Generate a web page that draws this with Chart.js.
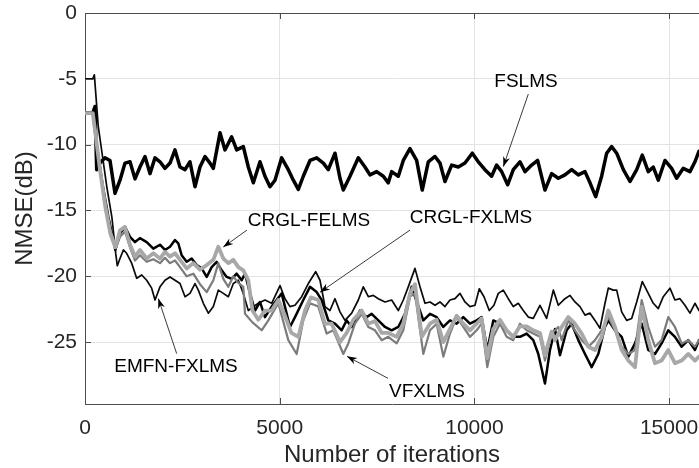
<!DOCTYPE html>
<html><head><meta charset="utf-8">
<script src="https://cdn.jsdelivr.net/npm/chart.js@4/dist/chart.umd.min.js"></script>
<style>html,body{margin:0;padding:0;background:#fff;overflow:hidden}</style>
</head><body>
<canvas id="c" width="699" height="468"></canvas>
<script>
// ---------- axes ----------
const xTickValues = [0, 5000, 10000, 15000];
const yTickValues = [-25, -20, -15, -10, -5, 0];
const xMin = 0, xMax = 15768, yMin = -29.7, yMax = 0;
const xTitle = 'Number of iterations';
const yTitle = 'NMSE(dB)';

// ---------- series ----------
const fslmsX = [0,200,257,300,385,514,642,770,899,1027,1156,1284,1412,1541,1669,1798,1926,2054,2183,2311,2440,2568,2696,2825,2953,3082,3210,3295,3467,3595,3766,3895,4066,4194,4323,4494,4622,4751,4879,5050,5221,5350,5478,5606,5778,5949,6120,6248,6420,6548,6634,6805,7019,7190,7319,7490,7661,7789,7875,8046,8174,8345,8517,8661,8816,8988,9116,9244,9416,9587,9758,9946,10100,10271,10442,10571,10700,10854,10999,11170,11299,11470,11624,11812,11984,12155,12326,12498,12669,12840,12969,13114,13268,13397,13525,13654,13825,13997,14168,14312,14465,14594,14722,14894,15065,15193,15364,15536,15664,15768];
const fslmsY = [-7.6,-7.6,-7.1,-11.9,-11.4,-11.0,-11.2,-13.7,-12.7,-11.4,-11.3,-12.6,-11.7,-10.9,-12.2,-11.0,-11.3,-11.8,-11.4,-10.4,-11.7,-11.9,-11.3,-13.2,-11.7,-10.9,-11.4,-11.8,-9.1,-10.4,-9.4,-10.4,-10.15,-11.7,-12.9,-11.3,-12.4,-13.2,-12.7,-11.0,-11.9,-12.7,-13.4,-12.4,-11.2,-11.0,-11.4,-11.9,-10.65,-12.55,-13.45,-12.4,-11.0,-11.7,-12.3,-12.05,-12.4,-12.9,-12.05,-12.4,-11.2,-10.3,-11.2,-13.45,-11.3,-10.9,-11.4,-12.8,-11.55,-11.7,-11.4,-10.65,-11.3,-11.9,-12.4,-11.55,-12.05,-13.05,-11.9,-11.3,-12.05,-11.55,-11.2,-13.45,-12.2,-12.55,-12.3,-11.9,-12.3,-12.05,-12.9,-13.95,-12.4,-10.65,-10.15,-10.65,-11.9,-12.8,-11.9,-10.8,-12.05,-11.7,-12.7,-11.2,-11.8,-12.55,-11.8,-12.05,-11.3,-10.5];

const emfnX = [0,200,240,340,450,560,690,790,830,899,985,1070,1198,1327,1456,1584,1712,1798,1926,2054,2183,2311,2440,2568,2696,2825,2910,3039,3167,3296,3424,3552,3681,3809,3937,4066,4194,4451,4622,4794,5008,5136,5264,5393,5564,5735,5924,6035,6163,6291,6420,6548,6677,6849,7019,7147,7276,7404,7532,7704,7875,8046,8174,8302,8474,8603,8731,8860,8988,9116,9244,9373,9501,9630,9758,9886,10015,10125,10246,10382,10502,10614,10742,10871,10999,11127,11256,11384,11512,11684,11855,12027,12155,12326,12455,12583,12712,12840,12969,13097,13225,13354,13439,13567,13654,13782,13911,14039,14168,14312,14465,14594,14722,14851,15022,15150,15279,15407,15536,15664,15768];
const emfnY = [-5.0,-5.0,-4.7,-8.6,-10.9,-13.2,-15.5,-18.3,-19.2,-18.65,-18.0,-18.25,-19.0,-20.15,-19.9,-20.3,-20.9,-21.8,-20.8,-20.3,-20.05,-20.3,-20.55,-21.55,-21.3,-20.55,-21.05,-22.05,-22.8,-22.3,-21.05,-21.3,-21.55,-20.55,-20.3,-21.3,-22.6,-22.05,-21.8,-22.05,-20.7,-21.7,-22.3,-22.2,-21.55,-20.55,-19.65,-20.3,-22.3,-22.6,-21.7,-22.7,-23.35,-22.8,-21.8,-20.8,-21.55,-21.45,-21.7,-21.95,-21.8,-22.6,-21.8,-20.8,-19.4,-20.8,-22.05,-21.95,-22.2,-21.95,-22.3,-21.8,-21.7,-21.3,-21.95,-22.3,-22.2,-20.95,-21.55,-22.6,-22.2,-21.3,-21.05,-21.7,-22.3,-22.05,-22.6,-23.1,-23.2,-22.2,-23.2,-21.05,-22.2,-21.7,-21.45,-21.95,-22.3,-22.95,-22.8,-23.35,-23.95,-22.05,-20.9,-21.05,-21.05,-22.7,-23.35,-23.2,-21.95,-20.4,-21.3,-22.05,-22.45,-21.55,-20.9,-21.8,-21.7,-22.2,-22.8,-22.05,-22.6];

const crglFxX = [0,200,300,450,600,780,899,1027,1156,1284,1412,1584,1755,1926,2054,2183,2311,2396,2482,2611,2739,2868,2996,3125,3253,3382,3510,3639,3767,3895,4024,4109,4237,4366,4494,4622,4794,5050,5264,5393,5606,5778,5949,6078,6248,6420,6591,6720,6849,7062,7233,7362,7532,7704,7875,8046,8217,8389,8474,8688,8860,9031,9202,9373,9544,9715,9886,10058,10186,10331,10485,10657,10828,10999,11170,11342,11512,11641,11812,11941,12070,12198,12369,12498,12669,12840,13011,13182,13354,13439,13610,13782,13953,14125,14297,14465,14637,14808,14979,15150,15322,15493,15664,15768];
const crglFxY = [-7.6,-7.6,-10.0,-13.0,-15.5,-18.0,-16.75,-16.25,-17.0,-17.4,-17.1,-17.4,-17.9,-17.6,-18.0,-17.75,-17.25,-17.5,-18.4,-18.9,-18.65,-19.15,-19.4,-20.05,-19.3,-18.9,-19.55,-20.05,-20.2,-19.8,-20.3,-19.8,-21.3,-22.6,-21.95,-23.1,-22.3,-21.3,-23.85,-23.1,-21.8,-20.8,-21.2,-21.8,-23.35,-23.6,-24.1,-23.35,-23.85,-22.6,-23.1,-22.85,-23.35,-23.85,-24.1,-23.85,-22.85,-20.8,-21.55,-23.35,-22.85,-23.1,-23.85,-23.35,-23.6,-23.1,-23.6,-23.35,-23.1,-25.6,-23.35,-23.6,-24.1,-24.6,-24.6,-24.35,-24.85,-25.9,-28.15,-25.6,-24.0,-26.0,-24.1,-23.6,-24.85,-25.9,-26.9,-25.9,-23.85,-23.35,-24.1,-24.6,-26.1,-25.1,-23.6,-25.6,-25.9,-25.1,-24.1,-24.6,-25.35,-24.85,-25.6,-24.85];

const crglFeX = [0,200,385,520,650,780,899,1027,1156,1284,1412,1584,1755,1926,2054,2183,2311,2440,2611,2782,2953,3125,3296,3424,3552,3681,3809,3937,4066,4194,4300,4451,4622,4794,4965,5136,5300,5478,5650,5800,5992,6163,6334,6548,6720,6890,7105,7276,7447,7618,7789,8003,8174,8346,8474,8650,8860,9031,9202,9373,9544,9715,9886,10058,10186,10331,10485,10657,10828,10999,11170,11342,11512,11684,11812,11984,12070,12241,12412,12583,12755,12926,13097,13268,13439,13610,13782,13953,14125,14297,14465,14637,14808,14979,15150,15322,15493,15664,15768];
const crglFeY = [-7.6,-7.6,-11.9,-14.7,-16.75,-17.8,-16.5,-16.25,-17.6,-18.5,-18.0,-18.65,-18.25,-18.65,-18.15,-18.5,-18.25,-18.75,-19.4,-19.0,-19.5,-19.15,-18.75,-17.75,-18.65,-19.0,-18.75,-19.3,-19.55,-20.3,-22.6,-23.3,-22.6,-22.6,-21.8,-23.0,-24.3,-24.6,-22.6,-21.6,-21.8,-23.6,-23.6,-25.0,-24.3,-23.3,-22.6,-23.6,-23.4,-24.3,-24.3,-24.6,-23.6,-21.3,-20.6,-24.6,-23.6,-23.3,-25.0,-24.0,-23.0,-23.6,-24.1,-23.6,-23.2,-26.2,-24.0,-23.3,-24.1,-24.6,-23.8,-23.8,-24.1,-24.3,-26.0,-24.2,-24.85,-23.85,-23.1,-23.6,-24.35,-25.35,-25.6,-24.6,-22.6,-23.85,-25.6,-26.4,-26.9,-22.3,-24.85,-26.6,-26.4,-25.6,-26.6,-26.4,-25.9,-26.4,-26.1];

const vfxX = [0,200,350,500,650,800,899,1027,1156,1284,1412,1584,1755,1926,2054,2183,2311,2440,2611,2782,2953,3125,3296,3424,3552,3681,3809,3937,4066,4109,4300,4537,4708,4965,5221,5435,5606,5778,5992,6206,6377,6634,6762,6933,7105,7276,7447,7618,7789,8003,8174,8346,8474,8688,8860,9031,9202,9373,9544,9715,9886,10058,10186,10331,10485,10657,10828,10999,11170,11342,11512,11684,11812,11984,12155,12241,12412,12583,12755,12926,13097,13268,13439,13610,13782,13953,14125,14297,14465,14637,14808,14979,15150,15322,15493,15664,15768];
const vfxY = [-7.6,-7.6,-11.0,-14.0,-16.5,-17.8,-17.0,-16.6,-17.8,-18.8,-18.4,-18.9,-18.7,-19.0,-18.6,-19.0,-18.8,-19.3,-20.0,-19.8,-20.6,-21.2,-20.3,-19.0,-20.2,-20.8,-20.0,-20.5,-20.8,-22.85,-23.5,-24.1,-23.35,-22.05,-24.85,-25.9,-23.35,-22.05,-22.3,-24.35,-24.1,-25.9,-25.1,-23.6,-22.85,-23.85,-24.1,-24.85,-24.6,-25.1,-24.1,-21.55,-21.3,-25.9,-24.1,-23.6,-26.1,-24.35,-23.1,-23.85,-24.6,-24.1,-23.6,-26.9,-24.6,-23.6,-24.6,-24.85,-23.6,-24.1,-24.35,-24.6,-26.4,-24.35,-23.85,-24.85,-23.35,-24.1,-24.85,-25.35,-24.85,-24.1,-23.1,-24.1,-25.35,-25.9,-25.6,-21.8,-23.85,-25.35,-24.85,-23.1,-23.85,-25.1,-24.85,-25.35,-24.85];

// ---------- annotations (data coordinates) ----------
const annLabels = ['FSLMS','CRGL-FELMS','CRGL-FXLMS','EMFN-FXLMS','VFXLMS'];
const annTextX = [11325, 5752, 9913, 2337, 8783];
const annTextY = [-5.23, -15.8, -15.55, -26.9, -28.8];
const arrowFromX = [11384, 4160, 8346, 2354, 7781];
const arrowFromY = [-6.16, -16.49, -16.49, -25.87, -27.75];
const arrowToX = [10742, 3550, 6035, 1883, 6728];
const arrowToY = [-11.67, -17.78, -21.21, -21.69, -26.08];

const FONT = "'Liberation Sans', Arial, Helvetica, sans-serif";
const pts = (xs, ys) => xs.map((x, i) => ({x, y: ys[i]}));

function ds(label, xs, ys, color, width) {
  return {label, data: pts(xs, ys), borderColor: color, backgroundColor: color,
    borderWidth: width, pointRadius: 0, tension: 0, fill: false,
    borderJoinStyle: 'round', borderCapStyle: 'round'};
}

function noPad(s) { s.paddingTop = 0; s.paddingBottom = 0; s.paddingLeft = 0; s.paddingRight = 0; }

function arrowHead(ctx, x0, y0, x1, y1) {
  const ang = Math.atan2(y1 - y0, x1 - x0);
  const L = 10, W = 3.5, N = 7;
  const bx = x1 - L * Math.cos(ang), by = y1 - L * Math.sin(ang);
  const nx = x1 - N * Math.cos(ang), ny = y1 - N * Math.sin(ang);
  const px = -Math.sin(ang), py = Math.cos(ang);
  ctx.beginPath();
  ctx.moveTo(x1, y1);
  ctx.lineTo(bx + W * px, by + W * py);
  ctx.lineTo(nx, ny);
  ctx.lineTo(bx - W * px, by - W * py);
  ctx.closePath();
  ctx.fill();
}

const boxPlugin = {
  id: 'matlabBox',
  afterDraw(chart) {
    const {ctx, chartArea: a, scales: {x, y}} = chart;
    ctx.save();
    ctx.strokeStyle = '#4d4d4d';
    ctx.lineWidth = 1;
    ctx.beginPath();
    ctx.moveTo(a.left, Math.round(a.top) + 0.5);
    ctx.lineTo(a.right, Math.round(a.top) + 0.5);
    xTickValues.forEach(v => {
      const px = Math.round(x.getPixelForValue(v)) + 0.5;
      ctx.moveTo(px, a.bottom); ctx.lineTo(px, a.bottom - 6);
      ctx.moveTo(px, a.top); ctx.lineTo(px, a.top + 6);
    });
    yTickValues.forEach(v => {
      const py = Math.round(y.getPixelForValue(v)) + 0.5;
      ctx.moveTo(a.left, py); ctx.lineTo(a.left + 6, py);
    });
    ctx.stroke();

    // annotations
    ctx.font = '19px ' + FONT;
    ctx.textAlign = 'center';
    ctx.textBaseline = 'middle';
    annLabels.forEach((t, i) => {
      const x0 = x.getPixelForValue(arrowFromX[i]), y0 = y.getPixelForValue(arrowFromY[i]);
      const x1 = x.getPixelForValue(arrowToX[i]), y1 = y.getPixelForValue(arrowToY[i]);
      ctx.strokeStyle = '#3a3a3a';
      ctx.lineWidth = 1;
      ctx.beginPath(); ctx.moveTo(x0, y0); ctx.lineTo(x1, y1); ctx.stroke();
      ctx.fillStyle = '#000';
      arrowHead(ctx, x0, y0, x1, y1);
      ctx.fillText(t, x.getPixelForValue(annTextX[i]), y.getPixelForValue(annTextY[i]));
    });
    ctx.restore();
  }
};

new Chart(document.getElementById('c'), {
  type: 'line',
  data: {
    datasets: [
      ds('CRGL-FELMS', crglFeX, crglFeY, '#a8a8a8', 3.8),
      ds('VFXLMS', vfxX, vfxY, '#7c7c7c', 2.2),
      ds('CRGL-FXLMS', crglFxX, crglFxY, '#000000', 2.5),
      ds('EMFN-FXLMS', emfnX, emfnY, '#0a0a0a', 1.7),
      ds('FSLMS', fslmsX, fslmsY, '#000000', 3.5)
    ]
  },
  options: {
    responsive: false,
    devicePixelRatio: 1,
    animation: false,
    events: [],
    layout: {padding: {top: 13, right: 0, bottom: 0, left: 0}, autoPadding: false},
    plugins: {legend: {display: false}, tooltip: {enabled: false}},
    scales: {
      x: {
        type: 'linear', min: xMin, max: xMax, position: 'bottom',
        afterBuildTicks: s => { s.ticks = xTickValues.map(v => ({value: v})); },
        afterFit: s => { s.height = 64; noPad(s); },
        grid: {color: '#e3e3e3', lineWidth: 1, drawTicks: false},
        border: {display: true, color: '#4d4d4d', width: 1},
        ticks: {padding: 12, maxRotation: 0, color: '#262626', font: {family: FONT, size: 21},
          callback: v => String(v)},
        title: {display: true, text: xTitle, color: '#262626',
          font: {family: FONT, size: 24, lineHeight: 1}, padding: {top: 0, bottom: 1}}
      },
      y: {
        type: 'linear', min: yMin, max: yMax,
        afterBuildTicks: s => { s.ticks = yTickValues.map(v => ({value: v})); },
        afterFit: s => { s.width = 85; noPad(s); },
        grid: {color: '#e3e3e3', lineWidth: 1, drawTicks: false},
        border: {display: true, color: '#4d4d4d', width: 1},
        ticks: {padding: 8, color: '#262626', font: {family: FONT, size: 21},
          callback: v => String(v)},
        title: {display: true, text: yTitle, color: '#262626',
          font: {family: FONT, size: 24, lineHeight: 1}, padding: {top: 13, bottom: 0}}
      }
    }
  },
  plugins: [boxPlugin]
});
</script>
</body></html>
